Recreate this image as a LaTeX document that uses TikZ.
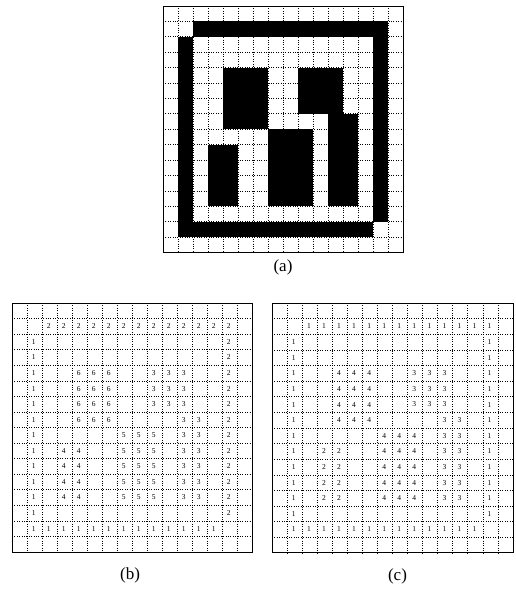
\documentclass[tikz,border=0pt]{standalone}
\usepackage{fontspec}
\setmainfont{Liberation Serif}
\usetikzlibrary{positioning}

\begin{document}
\begin{tikzpicture}[x=1pt, y=-1pt,
  gridline/.style={black, line width=0.6pt, dash pattern=on 0.9pt off 1.5pt},
  frame/.style={draw=black, line width=0.9pt},
  digit/.style={inner sep=0pt, font=\fontsize{7.5}{8}\selectfont},
  caption/.style={inner sep=0pt, font=\fontsize{17}{20}\selectfont}]
\useasboundingbox (0,0) rectangle (515,591);

% (a) binary image
\begin{scope}[shift={(163,6)}, x=15pt, y=-15.4pt]
\foreach \i in {1,...,15} {\draw[gridline] (\i,0) -- (\i,16); \draw[gridline] (0,\i) -- (16,\i);}
\foreach \ca/\cb/\ra/\rb in {2/14/1/1, 14/14/2/13, 1/1/2/14, 2/13/14/14, 4/6/4/7, 9/11/4/6, 11/12/7/12, 7/9/8/12, 3/4/9/12}
  \fill[black] (\ca,\ra) rectangle (\cb+1,\rb+1);
\draw[frame] (0,0) rectangle (16,16);
\coordinate (abot) at (8,16);
\end{scope}
\node[caption, below=7.5pt of abot] (capa) {(a)};

% (b) 4-connected labels
\begin{scope}[shift={(12,303)}, x=15pt, y=-15.56pt]
\foreach \i in {1,...,15} {\draw[gridline] (\i,0) -- (\i,16); \draw[gridline] (0,\i) -- (16,\i);}
\foreach \ca/\cb/\ra/\rb/\lb in {2/14/1/1/2, 14/14/2/13/2, 1/1/2/14/1, 2/13/14/14/1, 4/6/4/7/6, 9/11/4/6/3, 11/12/7/12/3, 7/9/8/12/5, 3/4/9/12/4}
  \foreach \c in {\ca,...,\cb} \foreach \r in {\ra,...,\rb}
    \node[digit] (b-\c-\r) at (\c+0.45,\r+0.5) {\lb};
\draw[frame] (0,0) rectangle (16,16);
\coordinate (bbot) at (8,16);
\end{scope}
\node[caption, below=16pt of bbot, xshift=-2pt] (capb) {(b)};

% (c) 8-connected labels
\begin{scope}[shift={(272,303)}, x=15.06pt, y=-15.62pt]
\foreach \i in {1,...,15} {\draw[gridline] (\i,0) -- (\i,16); \draw[gridline] (0,\i) -- (16,\i);}
\foreach \ca/\cb/\ra/\rb/\lb in {2/14/1/1/1, 14/14/2/13/1, 1/1/2/14/1, 2/13/14/14/1, 4/6/4/7/4, 9/11/4/6/3, 11/12/7/12/3, 7/9/8/12/4, 3/4/9/12/2}
  \foreach \c in {\ca,...,\cb} \foreach \r in {\ra,...,\rb}
    \node[digit] (c-\c-\r) at (\c+0.45,\r+0.5) {\lb};
\draw[frame] (0,0) rectangle (16,16);
\coordinate (cbot) at (8,16);
\end{scope}
\node[caption, below=16pt of cbot, xshift=5pt] (capc) {(c)};
\end{tikzpicture}
\end{document}
